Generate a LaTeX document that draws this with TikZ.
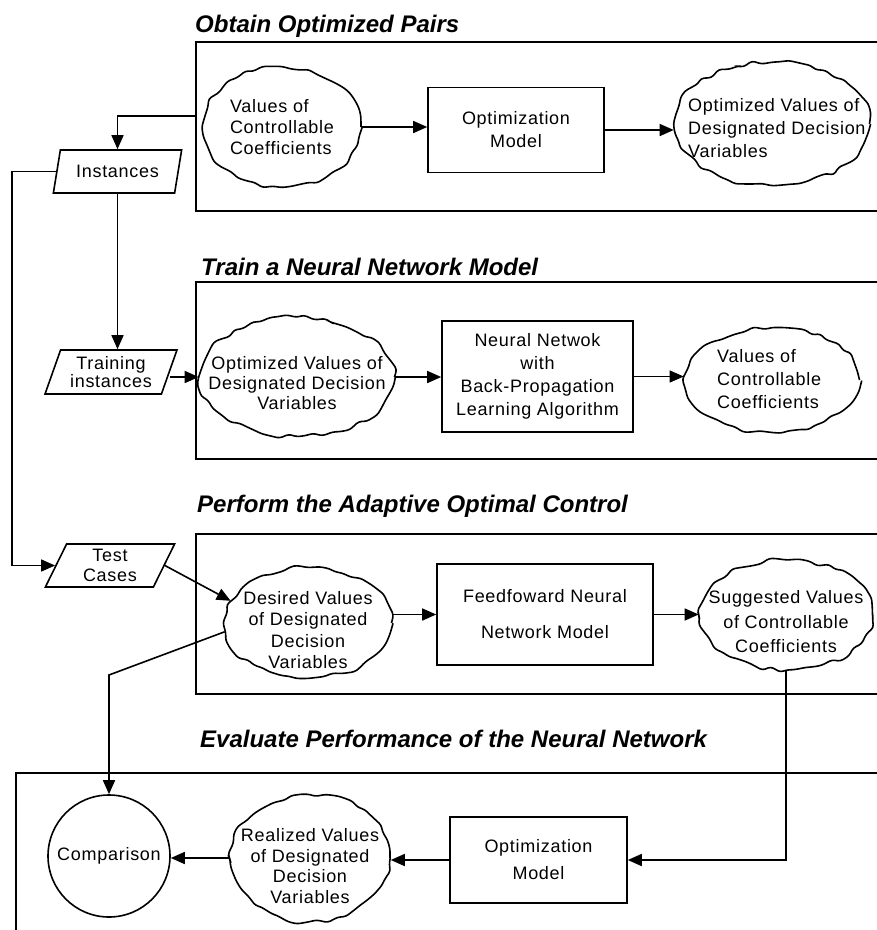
\documentclass[tikz,border=0pt]{standalone}
\usepackage{fontspec}
\setmainfont{Liberation Sans}
\newfontfamily\labfont[LetterSpace=4]{Liberation Sans}
\usetikzlibrary{shapes.geometric,arrows.meta,decorations.pathmorphing}
\begin{document}
\pgfmathsetseed{11}
\begin{tikzpicture}[x=1pt,y=-1pt,
  every node/.style={font=\labfont\fontsize{18}{21}\selectfont},
  arr/.style={line width=1.6pt,-{Triangle[length=14pt,width=12pt]}},
  frame/.style={draw,line width=1.6pt,rectangle,inner sep=0pt,anchor=north west},
  procbox/.style={draw,line width=1.6pt,rectangle,inner sep=0pt,align=center},
  cloudshape/.style={draw,ellipse,inner sep=0pt,line width=1.6pt,decorate,
     decoration={random steps,segment length=9pt,amplitude=2.6pt},rounded corners=3pt},
  iobox/.style={draw,trapezium,trapezium left angle=68,trapezium right angle=112,
     trapezium stretches=true,inner sep=0pt,line width=1.6pt,align=center},
  ctext/.style={align=center,inner sep=0pt},
  ltext/.style={align=left,inner sep=0pt},
  title/.style={font=\fontsize{24}{28}\selectfont\bfseries\itshape,anchor=base west,inner sep=0pt}
]
\useasboundingbox (0,0) rectangle (877,930);
\clip (0,0) rectangle (877,930);

% frames and titles
\node[frame,minimum width=700,minimum height=169] (f1) at (195,41) {};
\node[frame,minimum width=700,minimum height=177] (f2) at (195,281) {};
\node[frame,minimum width=700,minimum height=160] (f3) at (195,533) {};
\node[frame,minimum width=880,minimum height=180] (f4) at (15,772) {};
\node[title] (t1) at (195,32) {Obtain Optimized Pairs};
\node[title] (t2) at (201,275) {Train a Neural Network Model};
\node[title] (t3) at (197,512) {Perform the Adaptive Optimal Control};
\node[title] (t4) at (200,747) {Evaluate Performance of the Neural Network};

% row 1
\node[cloudshape,minimum width=158,minimum height=120] (c1) at (282,127) {};
\node[ltext] (c1t) at (c1.center) {Values of\\Controllable\\Coefficients};
\node[procbox,minimum width=176,minimum height=85,font=\labfont\fontsize{18}{23}\selectfont] (opt1) at (516,130) {Optimization\\Model};
\node[cloudshape,minimum width=195,minimum height=123] (c3) at (772,124) {};
\node[ltext,font=\labfont\fontsize{18}{23}\selectfont,anchor=west] (c3t) at (688,128) {Optimized Values of\\Designated Decision\\Variables};

% IO boxes
\node[iobox,minimum width=129,minimum height=43] (inst) at (117.5,171.5) {Instances};
\node[iobox,minimum width=132,minimum height=44,font=\labfont\fontsize{18}{18}\selectfont] (train) at (111,372) {Training\\instances};
\node[iobox,minimum width=130,minimum height=43,font=\labfont\fontsize{18}{20}\selectfont] (test) at (110,565.5) {Test\\Cases};

% row 2
\node[cloudshape,minimum width=195,minimum height=119] (c2) at (297,377) {};
\node[ctext,font=\labfont\fontsize{18}{20}\selectfont] (c2t) at (297,383) {Optimized Values of\\Designated Decision\\Variables};
\node[procbox,minimum width=191,minimum height=111,font=\labfont\fontsize{18}{23}\selectfont] (nn) at (537.5,376.5) {Neural Netwok\\with\\Back-Propagation\\Learning Algorithm};
\node[cloudshape,minimum width=175,minimum height=104] (c4) at (772,380) {};
\node[ltext,anchor=west,font=\labfont\fontsize{18}{23}\selectfont] (c4t) at (717,379) {Values of\\Controllable\\Coefficients};

% row 3
\node[cloudshape,minimum width=167,minimum height=110] (c5) at (308,623) {};
\node[ctext,font=\labfont\fontsize{18}{21.5}\selectfont] (c5t) at (308,630) {Desired Values\\of Designated\\Decision\\Variables};
\node[procbox,minimum width=216,minimum height=101,font=\labfont\fontsize{18}{36}\selectfont] (ff) at (545,614.5) {Feedfoward Neural\\Network Model};
\node[cloudshape,minimum width=173,minimum height=110] (c6) at (786,615) {};
\node[ctext,font=\labfont\fontsize{18}{24.5}\selectfont] (c6t) at (786,622) {Suggested Values\\of Controllable\\Coefficients};

% row 4
\node[draw,circle,line width=1.6pt,minimum size=122,inner sep=0pt] (comp) at (109,856) {Comparison};
\node[cloudshape,minimum width=160,minimum height=127] (c7) at (310,858) {};
\node[ctext,font=\labfont\fontsize{18}{20.7}\selectfont] (c7t) at (310,866) {Realized Values\\of Designated\\Decision\\Variables};
\node[procbox,minimum width=177,minimum height=86,font=\labfont\fontsize{18}{27}\selectfont] (opt2) at (538.5,860) {Optimization\\Model};

% helper coordinates
\coordinate (s1) at (195,116);
\coordinate (lp) at (12,0);
\coordinate (bend) at (109,675);

% connectors
\draw[arr] (s1) -| (inst.north);
\draw[arr] (inst.west) -- (inst.west -| lp) |- (test.west);
\draw[arr] (inst.south) -- (inst.south |- train.north);
\draw[arr] (c1.east) -- (c1.east -| opt1.west);
\draw[arr] (opt1.east) -- (opt1.east -| c3.west);
\draw[arr] (c2.west -| train.east) -- (c2.west);
\draw[arr] (c2.east) -- (c2.east -| nn.west);
\draw[arr,line width=1.1pt] (nn.east) -- (nn.east -| c4.west);
\draw[arr] (test.east) -- (c5.164);
\draw[arr] (c5.east |- ff.west) -- (ff.west);
\draw[arr] (ff.east) -- (ff.east -| c6.west);
\draw[arr] (c5.186) -- (bend) -- (comp.north);
\draw[arr] (c6.south) |- (opt2.east);
\draw[arr] (opt2.west) -- (opt2.west -| c7.east);
\draw[arr] (c7.west) -- (c7.west -| comp.east);
\end{tikzpicture}
\end{document}
